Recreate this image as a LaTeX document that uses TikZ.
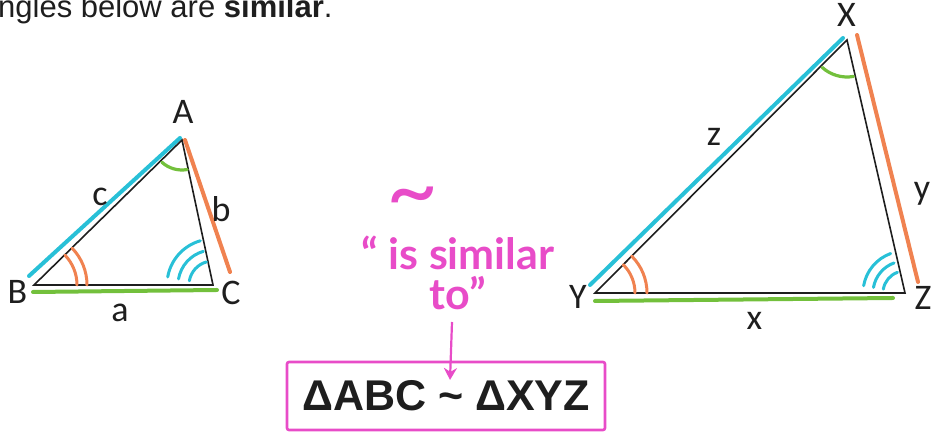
\documentclass[tikz,border=0pt]{standalone}
\usepackage{fontspec}
\setmainfont{Liberation Sans}
\newfontfamily\labfont{Carlito}
\newfontfamily\handfont{Lato}
\usetikzlibrary{arrows.meta}
\definecolor{cyanL}{RGB}{40,192,215}
\definecolor{orangeL}{RGB}{240,130,80}
\definecolor{greenL}{RGB}{115,192,60}
\definecolor{pinkL}{RGB}{232,76,200}
\definecolor{inkL}{RGB}{30,30,30}
\begin{document}
\begin{tikzpicture}[x=1pt,y=1pt,
  tri/.style={draw=inkL, line width=1.6pt, line join=miter},
  cside/.style={draw=cyanL, line width=4pt, line cap=round},
  oside/.style={draw=orangeL, line width=4pt, line cap=round},
  gside/.style={draw=greenL, line width=4pt, line cap=round},
  garc/.style={draw=greenL, line width=3.2pt, line cap=round},
  oarc/.style={draw=orangeL, line width=3pt, line cap=round},
  carc/.style={draw=cyanL, line width=3pt, line cap=round},
  vlabel/.style={font=\labfont\fontsize{36}{36}\selectfont, text=inkL, inner sep=0pt},
  hand/.style={font=\handfont\bfseries\fontsize{43}{43}\selectfont, text=pinkL, inner sep=0pt},
  pinkarrow/.style={draw=pinkL, line width=2.2pt, -{Stealth[length=12pt,width=13pt]}},
  eqbox/.style={draw=pinkL, line width=2.6pt, rounded corners=2pt, minimum width=318pt,
    minimum height=68pt, inner sep=0pt, text=inkL,
    font=\bfseries\fontsize{43}{43}\selectfont}
]
\useasboundingbox (0,0) rectangle (935,435);
\clip (0,0) rectangle (935,435);

% top sentence (clipped at top, as in the source)
\node[anchor=base west, inner sep=0pt, text=inkL, font=\fontsize{31}{31}\selectfont] (intro) at (-2,417)
  {ngles below are \textbf{similar}.};

% ---------- left triangle ----------
\coordinate (A) at (182,295);
\coordinate (B) at (34,150);
\coordinate (C) at (213,150);

\draw[cside] (29,159) -- (180,297);
\draw[oside] (185,295) -- (230,163);
\draw[gside] (33,143) -- (217,145);

\draw[tri] (A) -- (B) -- (C) -- cycle;

\draw[garc] (A) ++(228:30) arc[start angle=228, end angle=280, radius=30];
\draw[oarc] (B) ++(0:43) arc[start angle=0, end angle=44, radius=43];
\draw[oarc] (B) ++(0:53) arc[start angle=0, end angle=44, radius=53];
\foreach \r in {24,35,46}
  \draw[carc] (C) ++(106:\r) arc[start angle=106, end angle=170, radius=\r];

\node[vlabel] (lA) at (183,323.5) {A};
\node[vlabel] (lB) at (17.5,143.5) {B};
\node[vlabel] (lC) at (231,142.5) {C};
\node[vlabel] (la) at (120,122) {a};
\node[vlabel] (lb) at (221,226) {b};
\node[vlabel] (lc) at (100,238) {c};

% ---------- right triangle ----------
\coordinate (X) at (847,395);
\coordinate (Y) at (595,142);
\coordinate (Z) at (905,142);

\draw[cside] (590,150) -- (843,397);
\draw[oside] (857,400) -- (918,153);
\draw[gside] (595,134) -- (893,137);

\draw[tri] (X) -- (Y) -- (Z) -- cycle;

\draw[garc] (X) ++(228:37) arc[start angle=228, end angle=280, radius=37];
\draw[oarc] (Y) ++(0:40) arc[start angle=0, end angle=45, radius=40];
\draw[oarc] (Y) ++(0:52) arc[start angle=0, end angle=45, radius=52];
\foreach \r in {22,32,42}
  \draw[carc] (Z) ++(110:\r) arc[start angle=110, end angle=170, radius=\r];

\node[vlabel] (lX) at (846.5,420) {X};
\node[vlabel] (lY) at (578,138) {Y};
\node[vlabel] (lZ) at (923,137) {Z};
\node[vlabel] (lx) at (754.5,114) {x};
\node[vlabel] (ly) at (922,241) {y};
\node[vlabel] (lz) at (714,298) {z};

% ---------- pink annotation ----------
\node[hand, font=\handfont\fontsize{90}{90}\selectfont] (tilde) at (413,231) {\textasciitilde};
\node[hand] (sim1) at (458,182) {“ is similar};
\node[hand] (sim2) at (458,142) {to”};

\node[eqbox] (eq) at (446,39) {ΔABC \textasciitilde\ ΔXYZ};
\coordinate (arrtop) at (452,113);
\coordinate (arrtip) at (450,55);
\draw[pinkarrow] (arrtop) -- (arrtip);
\end{tikzpicture}
\end{document}
